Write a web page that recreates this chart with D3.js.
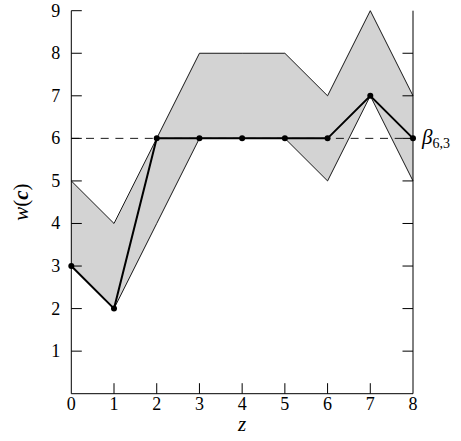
<!DOCTYPE html>
<html><head><meta charset="utf-8"><script src="https://cdn.jsdelivr.net/npm/d3@7"></script>
<style>
svg text { font-family: 'Times New Roman', 'Tinos', 'Liberation Serif', 'FreeSerif', 'Georgia' !important; }
</style>
</head>
<body style="margin:0">
<script>
// values
var zs = [0, 1, 2, 3, 4, 5, 6, 7, 8];
var upper = [5, 4, 6, 8, 8, 8, 7, 9, 7];
var lower = [3, 2, 4, 6, 6, 6, 5, 7, 5];
var weight = [3, 2, 6, 6, 6, 6, 6, 7, 6];
var beta = 6;
var yTicks = [1, 2, 3, 4, 5, 6, 7, 8, 9];
var xTicks = [0, 1, 2, 3, 4, 5, 6, 7, 8];

var w = 461;
var h = 441;
var margin = {left: 71.3, right: 48, top: 10.7, bottom: 47.3};
var serif = "'Times New Roman', 'Tinos', 'Liberation Serif', 'FreeSerif', 'Georgia'";

var svg = d3.select("body")
    .append("svg")
    .attr("width", w)
    .attr("height", h)
    .attr("font-family", serif);

var x = d3.scaleLinear().domain([0, 8]).range([margin.left, w - margin.right]);
var y = d3.scaleLinear().domain([0, 9]).range([h - margin.bottom, margin.top]);

var band = zs.map(function(z, i){ return {z: z, lo: lower[i], hi: upper[i]}; });

// shaded band
svg.append("path")
    .datum(band)
    .attr("d", d3.area()
        .x(function(d){ return x(d.z); })
        .y0(function(d){ return y(d.lo); })
        .y1(function(d){ return y(d.hi); }))
    .attr("fill", "#d3d3d3")
    .attr("stroke", "none");

// band edges
[upper, lower].forEach(function(arr){
    svg.append("path")
        .datum(zs.map(function(z, i){ return [z, arr[i]]; }))
        .attr("d", d3.line()
            .x(function(d){ return x(d[0]); })
            .y(function(d){ return y(d[1]); }))
        .attr("fill", "none")
        .attr("stroke", "#000")
        .attr("stroke-width", 0.9);
});

// dashed threshold
svg.append("line")
    .attr("x1", x(0)).attr("x2", x(8))
    .attr("y1", y(beta)).attr("y2", y(beta))
    .attr("stroke", "#000")
    .attr("stroke-width", 0.9)
    .style("stroke-dasharray", "8,6.7");

// axes: left, bottom, right (ticks pointing inward)
var tickLen = 10.5;
var axisG = svg.append("g").attr("stroke", "#000").attr("stroke-width", 1);
axisG.append("line").attr("x1", x(0)).attr("x2", x(0)).attr("y1", y(9)).attr("y2", y(0));
axisG.append("line").attr("x1", x(0)).attr("x2", x(8)).attr("y1", y(0)).attr("y2", y(0));
axisG.append("line").attr("x1", x(8)).attr("x2", x(8)).attr("y1", y(9)).attr("y2", y(0));

axisG.selectAll(".lt").data(yTicks).enter().append("line")
    .attr("x1", x(0)).attr("x2", x(0) + tickLen)
    .attr("y1", function(d){ return y(d); }).attr("y2", function(d){ return y(d); });
axisG.selectAll(".rt").data(yTicks.slice(0, 8)).enter().append("line")
    .attr("x1", x(8)).attr("x2", x(8) - tickLen)
    .attr("y1", function(d){ return y(d); }).attr("y2", function(d){ return y(d); });
axisG.selectAll(".bt").data(xTicks.slice(1, 8)).enter().append("line")
    .attr("x1", function(d){ return x(d); }).attr("x2", function(d){ return x(d); })
    .attr("y1", y(0)).attr("y2", y(0) - tickLen);

// tick labels
svg.selectAll(".yl").data(yTicks).enter().append("text")
    .attr("x", x(0) - 11)
    .attr("y", function(d){ return y(d) + 6; })
    .attr("text-anchor", "end")
    .attr("font-size", 18)
    .text(function(d){ return d; });
svg.selectAll(".xl").data(xTicks).enter().append("text")
    .attr("x", function(d){ return x(d); })
    .attr("y", y(0) + 16)
    .attr("text-anchor", "middle")
    .attr("font-size", 18)
    .text(function(d){ return d; });

// weight line and points
svg.append("path")
    .datum(zs.map(function(z, i){ return [z, weight[i]]; }))
    .attr("d", d3.line()
        .x(function(d){ return x(d[0]); })
        .y(function(d){ return y(d[1]); }))
    .attr("fill", "none")
    .attr("stroke", "#000")
    .attr("stroke-width", 2);

svg.selectAll(".pt").data(zs).enter().append("circle")
    .attr("cx", function(d){ return x(d); })
    .attr("cy", function(d, i){ return y(weight[i]); })
    .attr("r", 3)
    .attr("fill", "#000");

// beta label
var bl = svg.append("text")
    .attr("x", x(8) + 9)
    .attr("y", y(beta) + 6)
    .attr("font-size", 21);
bl.append("tspan").attr("font-style", "italic").text("β");
bl.append("tspan").attr("dy", 4).attr("font-size", 14).text("6,3");

// axis titles
svg.append("text")
    .attr("x", (x(0) + x(8)) / 2)
    .attr("y", y(0) + 37)
    .attr("text-anchor", "middle")
    .attr("font-size", 21)
    .attr("font-style", "italic")
    .text("z");

var yl = svg.append("text")
    .attr("transform", "translate(28," + ((y(0) + y(9)) / 2) + ") rotate(-90)")
    .attr("text-anchor", "middle")
    .attr("font-size", 21);
yl.append("tspan").attr("font-style", "italic").text("w");
yl.append("tspan").text("(");
yl.append("tspan").attr("font-weight", "bold").attr("font-style", "italic").text("c");
yl.append("tspan").text(")");
</script>
</body></html>
